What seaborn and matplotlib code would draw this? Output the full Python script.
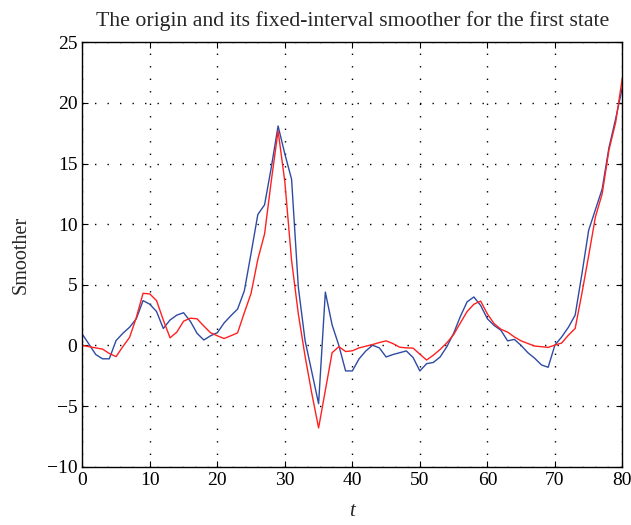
import numpy as np
import pandas as pd
import matplotlib
matplotlib.use("Agg")
import matplotlib.pyplot as plt
import seaborn as sns

# valeurs (t = 0..80)
t = np.arange(0, 81)

origin = [0.93, 0.1, -0.75, -1.1, -1.1, 0.4, 1.0, 1.5, 2.2, 3.7,
          3.4, 2.8, 1.4, 2.1, 2.5, 2.7, 2.0, 1.0, 0.45, 0.8,
          1.05, 1.85, 2.45, 3.0, 4.5, 7.6, 10.8, 11.6, 14.7, 18.1,
          15.8, 13.7, 4.8, 0.4, -2.2, -4.8, 4.4, 1.7, 0.0, -2.1,
          -2.1, -1.1, -0.45, 0.02, -0.2, -0.95, -0.75, -0.6, -0.45, -1.0,
          -2.1, -1.5, -1.4, -0.95, -0.1, 1.0, 2.4, 3.6, 4.0, 3.3,
          2.2, 1.65, 1.25, 0.38, 0.5, 0.0, -0.6, -1.05, -1.6, -1.8,
          0.03, 0.7, 1.5, 2.5, 5.9, 9.5, 11.2, 12.9, 16.3, 18.7,
          21.3]

smoother = [0.0, -0.1, -0.2, -0.3, -0.66, -0.92, -0.1, 0.66, 2.3, 4.3,
            4.25, 3.7, 2.1, 0.63, 1.1, 2.0, 2.25, 2.2, 1.6, 1.05,
            0.8, 0.57, 0.8, 1.04, 2.7, 4.3, 7.1, 9.2, 13.6, 17.7,
            13.5, 7.0, 2.6, -0.9, -3.97, -6.8, -3.7, -0.6, -0.1, -0.5,
            -0.44, -0.2, -0.06, 0.08, 0.24, 0.38, 0.16, -0.14, -0.2, -0.22,
            -0.72, -1.2, -0.8, -0.33, 0.22, 0.9, 1.86, 2.8, 3.4, 3.66,
            2.6, 1.8, 1.34, 1.1, 0.7, 0.38, 0.16, -0.05, -0.1, -0.16,
            0.03, 0.2, 0.85, 1.4, 4.3, 7.4, 10.6, 12.5, 16.1, 18.4,
            22.1]

df = pd.DataFrame({"t": t, "origin": origin, "smoother": smoother})

sns.set_style("ticks")
plt.rcParams["font.family"] = ["Liberation Serif", "DejaVu Serif"]
plt.rcParams["axes.linewidth"] = 1.0

fig = plt.figure(figsize=(6.31, 5.25), dpi=100)
ax = fig.add_axes([0.1304, 0.111, 0.856, 0.8084])

sns.lineplot(data=df, x="t", y="origin", color="#2E4BA4", linewidth=1.0, ax=ax)
sns.lineplot(data=df, x="t", y="smoother", color="#FF2020", linewidth=1.0, ax=ax)

ax.set_xlim(0, 80)
ax.set_ylim(-10, 25)
ax.set_xticks(range(0, 81, 10))
ax.set_yticks(range(-10, 26, 5))
ax.grid(True, color="black", linestyle=(0, (1, 8)), linewidth=1.0)
ax.tick_params(direction="in", top=True, right=True, length=4, width=0.8,
               labelsize=14, colors="black")
for s in ax.spines.values():
    s.set_visible(True)
    s.set_color("black")

ax.set_title("The origin and its fixed-interval smoother for the first state",
             fontsize=15.7, pad=12)
ax.set_xlabel("t", fontsize=15, style="italic", labelpad=10)
ax.set_ylabel("Smoother", fontsize=14.5, labelpad=12)

fig.savefig("out.png", dpi=100)
